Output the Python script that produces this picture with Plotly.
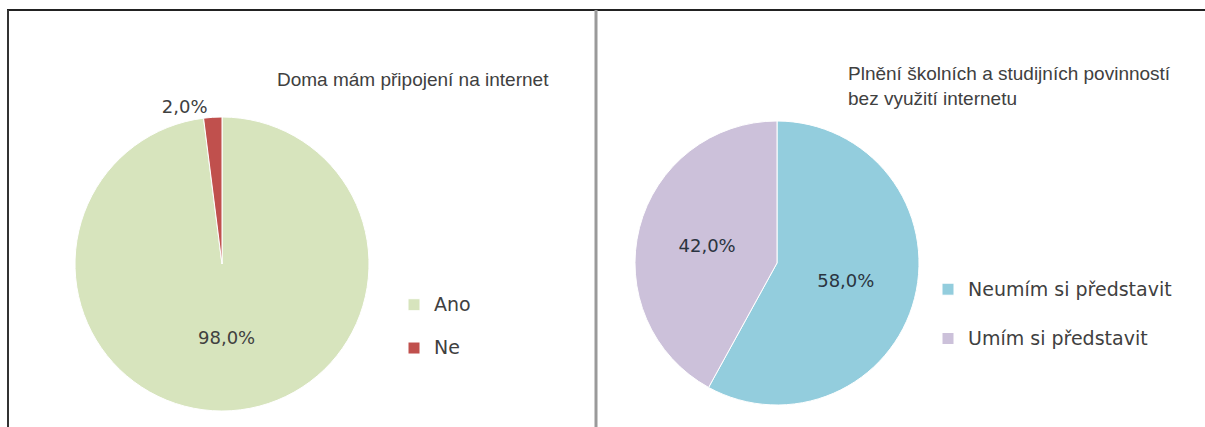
import plotly.graph_objects as go

# ---- data ----
left_title = "Doma mám připojení na internet"
left_labels = ["Ano", "Ne"]
left_values = [98.0, 2.0]
left_colors = ["#d7e4bd", "#c0504d"]

right_title = "Plnění školních a studijních povinností<br>bez využití internetu"
right_labels = ["Neumím si představit", "Umím si představit"]
right_values = [58.0, 42.0]
right_colors = ["#93cddd", "#ccc1da"]

W, H = 1205, 427
LEGEND_TEXT_SIZE = 19


def px_x(v):
    return v / W


def px_y(v):
    return 1 - v / H


def legend_text(labels):
    # a blank first line gives the roomy spacing of the original legend
    return ["<br><span style='font-size:%dpx'>%s</span>" % (LEGEND_TEXT_SIZE, l) for l in labels]


fig = go.Figure()

fig.add_trace(go.Pie(
    labels=legend_text(left_labels),
    values=left_values,
    marker=dict(colors=left_colors, line=dict(color="white", width=1)),
    sort=False,
    direction="clockwise",
    rotation=0,
    texttemplate="%{percent:.1%}",
    textposition=["inside", "outside"],
    insidetextorientation="horizontal",
    textfont=dict(family="DejaVu Sans", size=18, color="#404040"),
    domain=dict(x=[px_x(75), px_x(369)], y=[px_y(411), px_y(117)]),
    hoverinfo="percent",
    legend="legend",
))

fig.add_trace(go.Pie(
    labels=legend_text(right_labels),
    values=right_values,
    marker=dict(colors=right_colors, line=dict(color="white", width=1)),
    sort=False,
    direction="clockwise",
    rotation=0,
    texttemplate="%{percent:.1%}",
    textposition="inside",
    insidetextorientation="horizontal",
    textfont=dict(family="DejaVu Sans", size=18, color="#2a3440"),
    domain=dict(x=[px_x(635), px_x(919)], y=[px_y(405), px_y(121)]),
    hoverinfo="percent",
    legend="legend2",
))

legend_common = dict(
    bgcolor="rgba(0,0,0,0)",
    borderwidth=0,
    xanchor="left",
    yanchor="top",
    valign="bottom",
    itemclick=False,
    itemdoubleclick=False,
)

fig.update_layout(
    width=W,
    height=H,
    margin=dict(l=0, r=0, t=0, b=0),
    paper_bgcolor="white",
    plot_bgcolor="white",
    separators=",.",
    showlegend=True,
    legend=dict(**legend_common, x=px_x(394), y=px_y(268),
                font=dict(family="DejaVu Sans", size=15.5, color="#404040")),
    legend2=dict(**legend_common, x=px_x(928), y=px_y(248),
                 font=dict(family="DejaVu Sans", size=17.8, color="#404040")),
    annotations=[
        dict(text=left_title, x=px_x(275), y=px_y(79), xref="paper", yref="paper",
             xanchor="left", yanchor="middle", showarrow=False, align="left",
             font=dict(family="Liberation Sans", size=19, color="#404040")),
        dict(text=right_title, x=px_x(846), y=px_y(86), xref="paper", yref="paper",
             xanchor="left", yanchor="middle", showarrow=False, align="left",
             font=dict(family="Liberation Sans", size=19, color="#404040")),
    ],
    shapes=[
        dict(type="line", xref="paper", yref="paper", x0=px_x(7), x1=1, y0=px_y(10), y1=px_y(10),
             line=dict(color="#222222", width=2)),
        dict(type="line", xref="paper", yref="paper", x0=px_x(8), x1=px_x(8), y0=px_y(10), y1=0,
             line=dict(color="#333333", width=2)),
        dict(type="line", xref="paper", yref="paper", x0=px_x(596), x1=px_x(596), y0=px_y(10), y1=0,
             line=dict(color="#9a9a9a", width=3)),
    ],
)

fig.write_html("out.html")
